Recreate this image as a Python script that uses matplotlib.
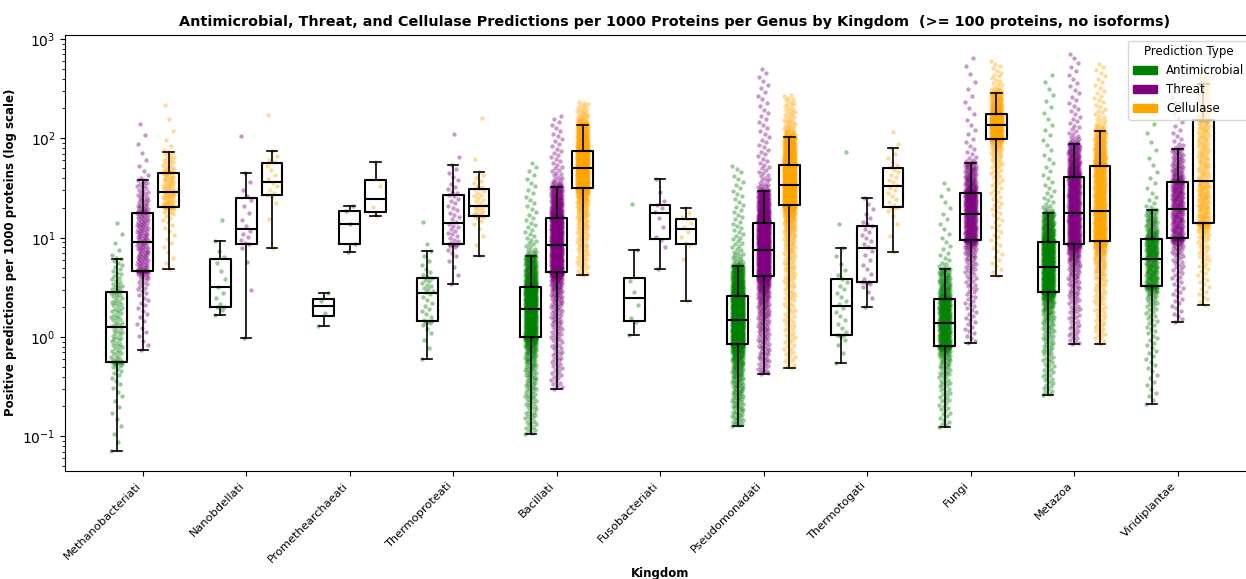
import numpy as np
import matplotlib.pyplot as plt
from matplotlib.patches import Patch

kingdoms = ['Methanobacteriati', 'Nanobdellati', 'Promethearchaeati', 'Thermoproteati',
            'Bacillati', 'Fusobacteriati', 'Pseudomonadati', 'Thermotogati',
            'Fungi', 'Metazoa', 'Viridiplantae']
pred_types = ['Antimicrobial', 'Threat', 'Cellulase']
type_colors = ['green', 'purple', 'orange']

# per kingdom: lower whisker, Q1, median, Q3, upper whisker, highest genus
antimicrobial = [
    (0.072, 0.564, 1.27, 2.82, 6.06, 14.2),
    (1.65, 2.02, 3.19, 6.1, 9.26, 15.1),
    (1.29, 1.64, 2.04, 2.43, 2.79, 2.79),
    (0.60, 1.46, 2.77, 3.93, 7.4, 14.3),
    (0.105, 1.0, 1.91, 3.21, 6.5, 56.5),
    (1.04, 1.46, 2.45, 3.95, 7.47, 21.9),
    (0.127, 0.86, 1.47, 2.6, 5.15, 53.0),
    (0.55, 1.06, 2.04, 3.84, 7.88, 72.6),
    (0.123, 0.81, 1.39, 2.39, 4.8, 35.8),
    (0.26, 2.82, 5.1, 8.98, 17.9, 432.0),
    (0.21, 3.24, 6.14, 9.77, 19.1, 139.0),
]
threat = [
    (0.745, 4.65, 8.98, 17.9, 37.8, 139.0),
    (0.97, 8.7, 12.1, 25.1, 44.5, 105.0),
    (7.2, 8.7, 13.7, 18.7, 21.0, 21.0),
    (3.44, 8.57, 14.1, 27.1, 54.3, 111.0),
    (0.30, 4.5, 8.5, 15.7, 32.6, 168.0),
    (4.8, 9.64, 17.7, 21.5, 38.7, 38.7),
    (0.42, 4.14, 7.52, 14.2, 29.3, 502.0),
    (2.0, 3.57, 7.82, 13.0, 24.9, 24.9),
    (0.87, 9.57, 17.5, 28.2, 57.0, 645.0),
    (0.85, 8.57, 17.6, 40.8, 88.4, 708.0),
    (1.42, 9.84, 19.6, 36.6, 77.6, 260.0),
]
cellulase = [
    (4.8, 20.5, 29.1, 45.2, 73.5, 218.0),
    (7.87, 26.7, 36.8, 57.0, 74.0, 172.0),
    (16.4, 18.3, 24.8, 37.7, 58.3, 58.3),
    (6.5, 16.5, 21.0, 30.9, 45.5, 159.0),
    (4.2, 31.9, 49.9, 74.6, 136.0, 230.0),
    (2.3, 8.6, 12.2, 15.6, 19.9, 19.9),
    (0.49, 21.2, 34.0, 54.3, 104.0, 274.0),
    (7.13, 20.5, 33.0, 50.7, 79.5, 117.0),
    (4.14, 98.6, 136.0, 174.0, 289.0, 596.0),
    (0.85, 9.26, 18.7, 53.0, 119.0, 565.0),
    (2.1, 14.2, 37.2, 153.0, 350.0, 420.0),
]

# number of genera with a positive count, per kingdom
antimicrobial_n = [120, 15, 4, 40, 900, 8, 1200, 30, 500, 800, 350]
threat_n = [200, 20, 5, 50, 900, 12, 1200, 30, 500, 800, 350]
cellulase_n = [120, 18, 4, 40, 900, 12, 1200, 30, 500, 800, 350]


def spread_values(stats, n, tail=0.05):
    # lay n genus values along the summary, thinning out towards the ends
    lo, q1, med, q3, hi, top = np.log10(stats)
    last = n - 1
    n_out = max(1, round(tail * n)) if top > hi else 0
    i1, i2, i3 = 0.25 * last, 0.5 * last, 0.75 * last
    i4 = max(last - n_out, i3)
    idx = np.arange(n, dtype=float)
    logs = np.interp(idx, [i1, i2, i3], [q1, med, q3])
    low = idx < i1
    if i1 > 0:
        u = idx[low] / i1
        logs[low] = q1 + (lo - q1) * (1 - u) ** 3
    mid = (idx > i3) & (idx <= i4)
    if i4 > i3:
        u = (idx[mid] - i3) / (i4 - i3)
        logs[mid] = q3 + (hi - q3) * u ** 1.5
    if n_out:
        up = idx > i4
        u = (idx[up] - i4) / (last - i4)
        logs[up] = hi + (top - hi) * u ** 2
    return 10 ** logs


fig = plt.figure(figsize=(12.46, 5.79), dpi=100)
ax = fig.add_axes([0.0524, 0.187, 0.9548, 0.7531])

offsets = [-0.25, 0.0, 0.25]
all_stats = [antimicrobial, threat, cellulase]
all_n = [antimicrobial_n, threat_n, cellulase_n]

for j in range(3):
    pos = np.arange(len(kingdoms)) + offsets[j]
    # jittered genus points
    for i in range(len(kingdoms)):
        vals = spread_values(all_stats[j][i], all_n[j][i])
        k = np.arange(len(vals))
        jit = 0.055 * (2 * ((k * 0.6180339887 + 0.31 * j) % 1.0) - 1)
        ax.scatter(pos[i] + jit, vals, s=10, color=type_colors[j], alpha=0.4,
                   linewidths=0, zorder=1)
    boxes = [dict(whislo=s[0], q1=s[1], med=s[2], q3=s[3], whishi=s[4], fliers=[])
             for s in all_stats[j]]
    ax.bxp(boxes, positions=pos, widths=0.2, showfliers=False,
           boxprops=dict(color='black', linewidth=1.5),
           medianprops=dict(color='black', linewidth=1.5),
           whiskerprops=dict(color='black', linewidth=1.2),
           capprops=dict(color='black', linewidth=1.2),
           manage_ticks=False, zorder=3)

ax.set_yscale('log')
ax.set_ylim(10 ** -1.346, 10 ** 3.044)
ax.set_xlim(-0.748, 10.748)
ax.set_xticks(np.arange(len(kingdoms)))
ax.set_xticklabels(kingdoms, rotation=45, ha='right', fontsize=8.2)

ax.set_title('Antimicrobial, Threat, and Cellulase Predictions per 1000 Proteins per Genus by Kingdom  (>= 100 proteins, no isoforms)',
             fontweight='bold', fontsize=10.4, x=0.512)
ax.set_ylabel('Positive predictions per 1000 proteins (log scale)', fontweight='bold', fontsize=8.5)
ax.set_xlabel('Kingdom', fontweight='bold', fontsize=8.5, labelpad=2)

handles = [Patch(color=c, label=t) for c, t in zip(type_colors, pred_types)]
ax.legend(handles=handles, title='Prediction Type', loc='upper right',
          fontsize=8.5, title_fontsize=8.5)

fig.savefig('out.png', dpi=100)
